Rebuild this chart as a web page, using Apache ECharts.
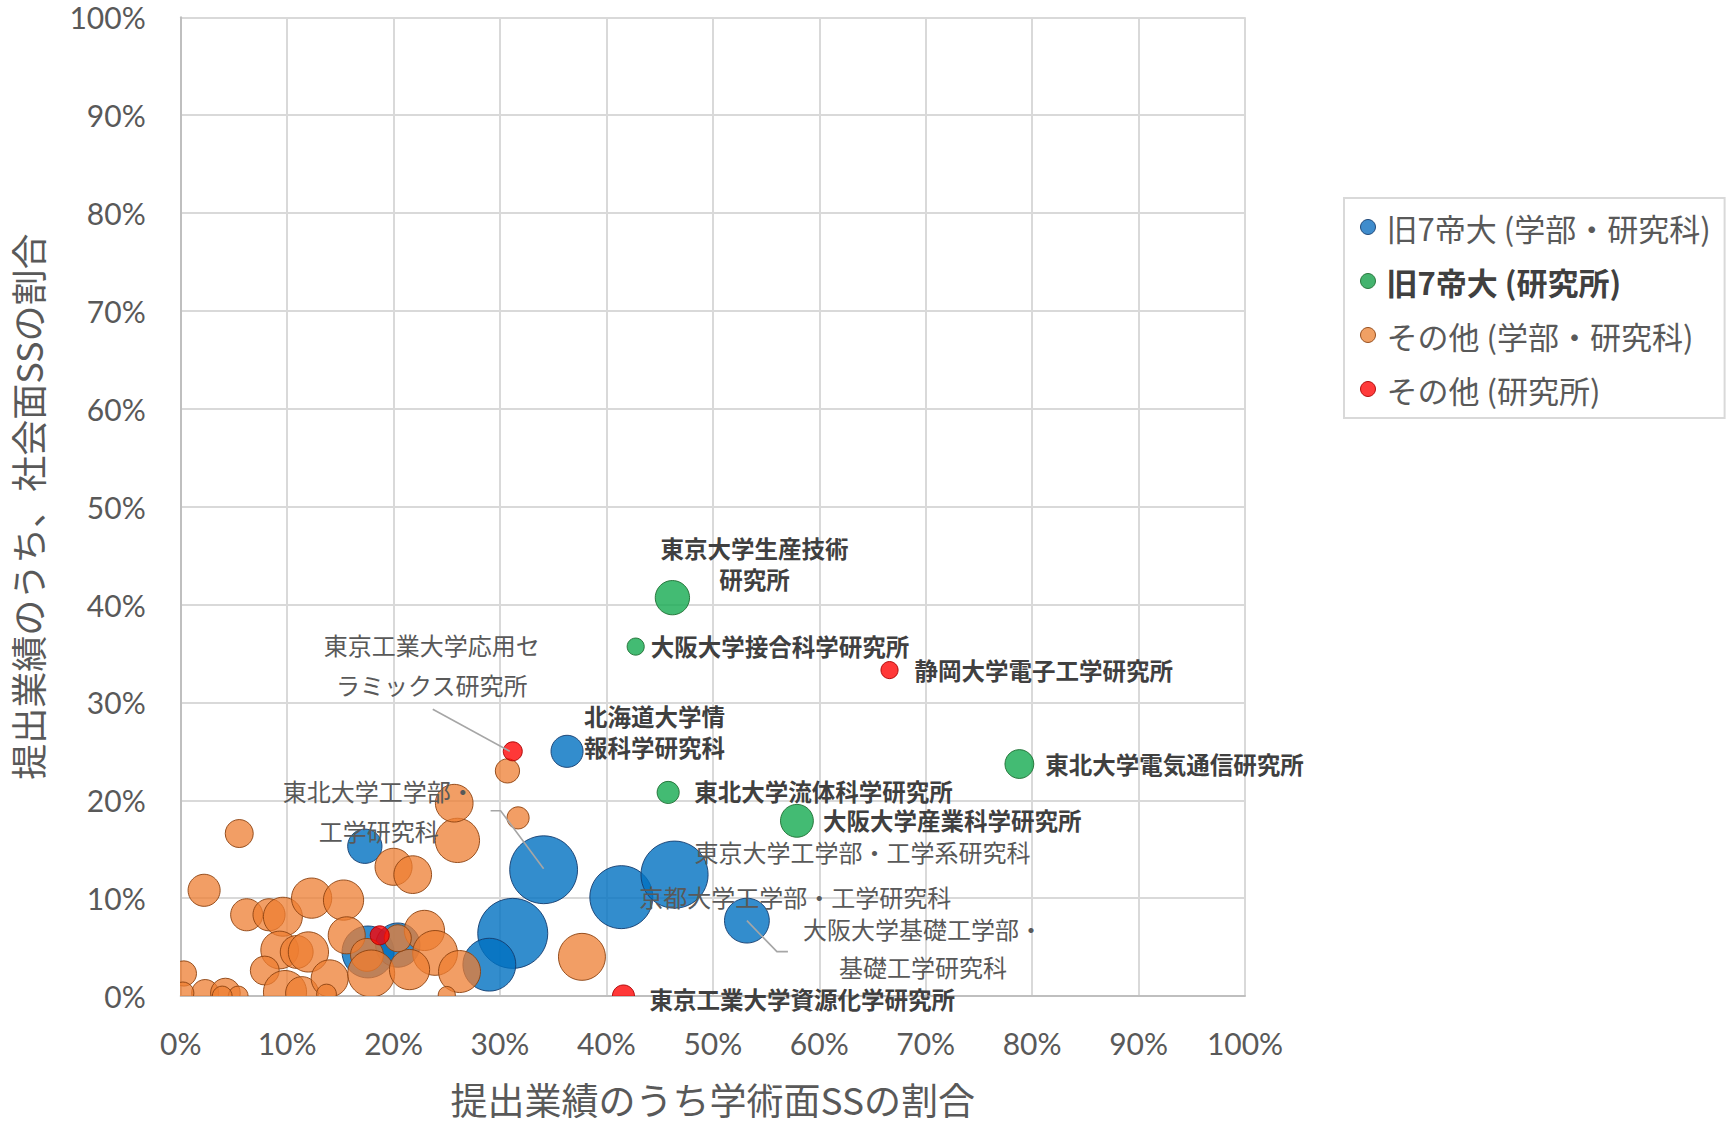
<!DOCTYPE html>
<html><head><meta charset="utf-8">
<script src="https://cdn.jsdelivr.net/npm/echarts@6/dist/echarts.min.js"></script>
<style>html,body{margin:0;padding:0;background:#fff}#c{width:1726px;height:1125px}</style>
</head><body><div id="c"></div>
<script>
// ---------- DATA ----------
const seriesNames = ['旧7帝大 (学部・研究科)', '旧7帝大 (研究所)', 'その他 (学部・研究科)', 'その他 (研究所)'];
const xTitle = '提出業績のうち学術面SSの割合';
const yTitle = '提出業績のうち、社会面SSの割合';
const axisTicks = [0, 10, 20, 30, 40, 50, 60, 70, 80, 90, 100];

// [x %, y %, bubble size]
const teidaiDept = [
  [36.3, 25.0, 21], [34.1, 12.9, 94], [41.4, 10.1, 81], [46.4, 12.4, 92],
  [53.2, 7.7, 41], [31.2, 6.4, 100], [29.0, 3.2, 57], [17.3, 15.3, 24],
  [17.6, 4.5, 55], [20.4, 5.2, 40]
];
const teidaiDeptNames = ['北海道大学情報科学研究科', '東北大学工学部・工学研究科', '京都大学工学部・工学研究科',
  '東京大学工学部・工学系研究科', '大阪大学基礎工学部・基礎工学研究科', '', '', '', '', ''];

const teidaiInst = [
  [46.2, 40.7, 24], [42.75, 35.7, 6], [45.8, 20.8, 10], [57.9, 17.9, 22], [78.8, 23.7, 17]
];
const teidaiInstNames = ['東京大学生産技術研究所', '大阪大学接合科学研究所', '東北大学流体科学研究所',
  '大阪大学産業科学研究所', '東北大学電気通信研究所'];

const otherDept = [
  [2.2, 10.8, 21], [6.2, 8.3, 21], [8.3, 8.3, 21], [9.6, 8.1, 31], [12.3, 10.0, 33],
  [15.3, 9.8, 33], [15.6, 6.2, 28], [9.3, 4.7, 29], [10.9, 4.5, 22], [12.0, 4.5, 33],
  [7.9, 2.6, 17], [0.3, 2.3, 13], [2.3, 0.3, 15], [4.2, 0.3, 18], [5.4, 0.0, 8],
  [3.9, 0.0, 8], [0.2, 0.3, 10], [9.8, 0.4, 38], [11.4, 0.3, 22], [14.0, 1.8, 28],
  [13.7, 0.2, 8], [17.5, 4.2, 22], [17.9, 2.3, 45], [20.0, 13.2, 28], [21.8, 12.4, 29],
  [22.9, 6.7, 33], [23.9, 4.4, 41], [21.5, 2.7, 33], [26.2, 2.5, 36], [25.0, 0.1, 6],
  [20.4, 5.9, 15], [26.0, 15.9, 40], [25.7, 19.7, 29], [31.7, 18.2, 10], [30.7, 23.0, 12],
  [5.5, 16.6, 16], [37.7, 4.0, 45]
];

const otherInst = [
  [66.6, 33.3, 6], [31.2, 25.0, 7.4], [41.6, 0.0, 10], [18.7, 6.2, 7.4]
];
const otherInstNames = ['静岡大学電子工学研究所', '東京工業大学応用セラミックス研究所', '東京工業大学資源化学研究所', ''];

// ---------- STYLE ----------
const colors = [
  { fill: 'rgba(0,112,192,0.8)', stroke: 'rgba(20,60,110,0.9)', legend: '#3f8ccc' },
  { fill: 'rgba(20,170,80,0.8)', stroke: 'rgba(30,110,50,0.9)', legend: '#44b36e' },
  { fill: 'rgba(237,125,49,0.75)', stroke: 'rgba(140,65,15,0.9)', legend: '#f0a064' },
  { fill: 'rgba(255,0,0,0.78)', stroke: 'rgba(170,0,0,0.9)', legend: '#ff3b3b' }
];
const radiusOf = v => 35 * Math.sqrt(v / 100);

// label placement (pixel offsets from bubble centre)
const labelStyles = {
  '東京大学生産技術研究所': { lines: ['東京大学生産技術', '研究所'], dx: 82, dy: -34, align: 'center', bold: true, lh: 31 },
  '大阪大学接合科学研究所': { lines: ['大阪大学接合科学研究所'], dx: 15, dy: -1, align: 'left', bold: true },
  '静岡大学電子工学研究所': { lines: ['静岡大学電子工学研究所'], dx: 25, dy: 0, align: 'left', bold: true },
  '北海道大学情報科学研究科': { lines: ['北海道大学情', '報科学研究科'], dx: 17, dy: -20, align: 'left', bold: true, lh: 31 },
  '東北大学電気通信研究所': { lines: ['東北大学電気通信研究所'], dx: 26, dy: 0, align: 'left', bold: true },
  '東北大学流体科学研究所': { lines: ['東北大学流体科学研究所'], dx: 26, dy: -1, align: 'left', bold: true },
  '大阪大学産業科学研究所': { lines: ['大阪大学産業科学研究所'], dx: 26, dy: -1, align: 'left', bold: true },
  '東京工業大学資源化学研究所': { lines: ['東京工業大学資源化学研究所'], dx: 26, dy: 3, align: 'left', bold: true },
  '東京工業大学応用セラミックス研究所': { lines: ['東京工業大学応用セ', 'ラミックス研究所'], dx: -81, dy: -87, align: 'center', bold: false, lh: 40,
    leader: [[-80, -42], [-3, 0]] },
  '東北大学工学部・工学研究科': { lines: ['東北大学工学部・', '工学研究科'], dx: -165, dy: -59, align: 'center', bold: false, lh: 40,
    leader: [[-53, -59], [-43, -59], [0, -1]] },
  '東京大学工学部・工学系研究科': { lines: ['東京大学工学部・工学系研究科'], dx: 20, dy: -23, align: 'left', bold: false },
  '京都大学工学部・工学研究科': { lines: ['京都大学工学部・工学研究科'], dx: 18, dy: -1, align: 'left', bold: false },
  '大阪大学基礎工学部・基礎工学研究科': { lines: ['大阪大学基礎工学部・', '基礎工学研究科'], dx: 176, dy: 27, align: 'center', bold: false, lh: 38,
    leader: [[0, 0], [30, 31], [41, 31]] }
};

const CJK = '"Noto Sans CJK JP", "Noto Sans", sans-serif';
const NUM = 'Lato, "Noto Sans", sans-serif';

// build annotation data
const annData = [], annNames = [];
[[teidaiDept, teidaiDeptNames], [teidaiInst, teidaiInstNames], [otherInst, otherInstNames]].forEach(([pts, names]) => {
  pts.forEach((p, i) => { if (names[i]) { annData.push([p[0], p[1]]); annNames.push(names[i]); } });
});

function bubbleSeries(idx, data) {
  const c = colors[idx];
  return {
    type: 'custom', name: seriesNames[idx], data: data, clip: true, z: 2,
    encode: { x: 0, y: 1 },
    itemStyle: { color: c.legend },
    renderItem: function (params, api) {
      const p = api.coord([api.value(0), api.value(1)]);
      return { type: 'circle', shape: { cx: p[0], cy: p[1], r: radiusOf(api.value(2)) },
        style: { fill: c.fill, stroke: c.stroke, lineWidth: 1 } };
    }
  };
}

const annotationSeries = {
  type: 'custom', name: 'labels', data: annData, clip: false, z: 5, silent: true,
  encode: { x: 0, y: 1 },
  renderItem: function (params, api) {
    const p = api.coord([api.value(0), api.value(1)]);
    const s = labelStyles[annNames[params.dataIndex]];
    const children = [];
    if (s.leader) {
      children.push({ type: 'polyline', shape: { points: s.leader.map(d => [p[0] + d[0], p[1] + d[1]]) },
        style: { stroke: '#a6a6a6', lineWidth: 1.6, fill: null } });
    }
    children.push({ type: 'text', x: p[0] + s.dx, y: p[1] + s.dy,
      style: { text: s.lines.join('\n'), align: s.align, verticalAlign: 'middle', textAlign: s.align, textVerticalAlign: 'middle',
        fontSize: s.bold ? 23.5 : 24, fontFamily: CJK, fontWeight: s.bold ? 'bold' : 'normal',
        fill: s.bold ? '#404040' : '#595959', lineHeight: s.lh || 26 } });
    return { type: 'group', children: children };
  }
};

const axisCommon = {
  type: 'value', min: 0, max: 100, interval: 10,
  axisLine: { show: true, lineStyle: { color: '#bfbfbf', width: 2 } },
  axisTick: { show: false },
  splitLine: { show: true, lineStyle: { color: '#d9d9d9', width: 2 } },
  axisLabel: { formatter: v => (axisTicks.indexOf(v) >= 0 ? v + '%' : ''), fontSize: 30, fontFamily: NUM, color: '#595959' },
  nameLocation: 'middle',
  nameTextStyle: { fontSize: 37, fontFamily: CJK, color: '#595959' }
};

const option = {
  backgroundColor: '#ffffff',
  animation: false,
  grid: { left: 180.7, right: 481, top: 17.3, bottom: 129, containLabel: false, outerBoundsMode: 'none' },
  xAxis: Object.assign({}, axisCommon, { name: xTitle, nameGap: 84,
    axisLabel: Object.assign({}, axisCommon.axisLabel, { margin: 32 }) }),
  yAxis: Object.assign({}, axisCommon, { name: yTitle, nameGap: 136, nameRotate: 90,
    nameTextStyle: { fontSize: 36, fontFamily: CJK, color: '#595959' },
    axisLabel: Object.assign({}, axisCommon.axisLabel, { margin: 35 }) }),
  legend: {
    orient: 'vertical', left: 1344, top: 198,
    padding: [13, 14, 13, 16], itemGap: 22, itemWidth: 15, itemHeight: 15,
    borderColor: '#d9d9d9', borderWidth: 2, backgroundColor: '#ffffff',
    icon: 'circle',
    textStyle: { fontSize: 31, fontFamily: CJK, color: '#595959', lineHeight: 32, padding: [0, 0, 0, 6] },
    data: seriesNames.map((n, i) => ({
      name: n, icon: 'circle',
      itemStyle: { color: colors[i].legend, borderColor: colors[i].stroke, borderWidth: 1 },
      textStyle: i === 1 ? { fontWeight: 'bold', color: '#404040' } : {}
    }))
  },
  series: [
    bubbleSeries(0, teidaiDept),
    bubbleSeries(1, teidaiInst),
    bubbleSeries(2, otherDept),
    bubbleSeries(3, otherInst),
    annotationSeries
  ]
};

const chart = echarts.init(document.getElementById('c'), null, { renderer: 'svg' });
chart.setOption(option);
</script>
</body></html>
